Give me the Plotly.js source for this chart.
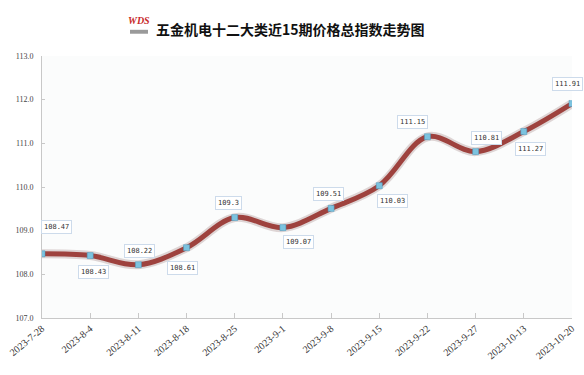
<!DOCTYPE html>
<html><head><meta charset="utf-8">
<script src="https://cdn.plot.ly/plotly-3.0.1.min.js"></script>
<style>html,body{margin:0;padding:0;background:#fff}#chart{width:584px;height:375px}</style>
</head><body><div id="chart"></div>
<script>
const categories = ["2023-7-28","2023-8-4","2023-8-11","2023-8-18","2023-8-25","2023-9-1","2023-9-8","2023-9-15","2023-9-22","2023-9-27","2023-10-13","2023-10-20"];
const indexValues = [108.47,108.43,108.22,108.61,109.3,109.07,109.51,110.03,111.15,110.81,111.27,111.91];
const yTicks = [107,108,109,110,111,112,113];
const yTickLabels = ["107.0","108.0","109.0","110.0","111.0","112.0","113.0"];
const chartTitle = "五金机电十二大类近15期价格总指数走势图";
const logoText = "WDS";
// label offsets (pixels) relative to each point
const labelDx = [14,3,1,-4,-6,16,-3,13,-15,11,7,-5];
const labelDy = [27,-16,14,-20,15,-14,14,-15,15,14,-17,20];

const shadow = {x: categories, y: indexValues, type:'scatter', mode:'lines',
  line:{shape:'spline', smoothing:1, color:'rgba(110,60,60,0.2)', width:9}, hoverinfo:'skip'};
const main = {x: categories, y: indexValues, type:'scatter', mode:'lines+markers',
  line:{shape:'spline', smoothing:1, color:'#9e423e', width:5},
  marker:{symbol:'square', size:6, color:'#7cc3df', line:{color:'#4a9cc0', width:0.5}}};

const annotations = indexValues.map((v,i)=>({
  x: categories[i], y: v, text: String(v), showarrow:false,
  xshift: labelDx[i], yshift: labelDy[i],
  font:{family:'DejaVu Sans Mono', size:7, color:'#333'},
  bgcolor:'#ffffff', bordercolor:'#cddbeb', borderwidth:1, borderpad:2
}));
annotations.push({xref:'paper', yref:'paper', x:0.183, y:1.105, xanchor:'center', yanchor:'bottom',
  showarrow:false, text:'<i><b>'+logoText+'</b></i>', font:{family:'Liberation Serif', size:10, color:'#c8282a'}});

const layout = {
  width:584, height:375,
  margin:{l:42, r:12, t:56, b:57},
  paper_bgcolor:'#ffffff', plot_bgcolor:'#fbfcfc',
  showlegend:false,
  title:{text:'<b>'+chartTitle+'</b>', x:0.497, xanchor:'center', y:0.92, yanchor:'middle',
    font:{family:'Noto Sans CJK SC', size:14, color:'#111'}},
  xaxis:{type:'category', range:[0,11], showline:true, linecolor:'#c8c8c8', linewidth:1,
    ticks:'inside', ticklen:5, tickcolor:'#c8c8c8', showgrid:false, zeroline:false, tickangle:-40,
    tickfont:{family:'Liberation Serif', size:10, color:'#333'}},
  yaxis:{range:[107,113], tickvals:yTicks, ticktext:yTickLabels, showline:true, linecolor:'#c8c8c8', linewidth:1,
    ticks:'inside', ticklen:3, tickcolor:'#c8c8c8', showgrid:false, zeroline:false,
    tickfont:{family:'Liberation Serif', size:8, color:'#444'}, ticklabelstandoff:6},
  annotations: annotations,
  shapes:[
    {type:'rect', xref:'paper', yref:'paper', x0:0.166, x1:0.2, y0:1.085, y1:1.1, fillcolor:'#9a9a9a', line:{width:0}}
  ]
};

Plotly.newPlot('chart', [shadow, main], layout, {displayModeBar:false, staticPlot:true});
</script></body></html>
